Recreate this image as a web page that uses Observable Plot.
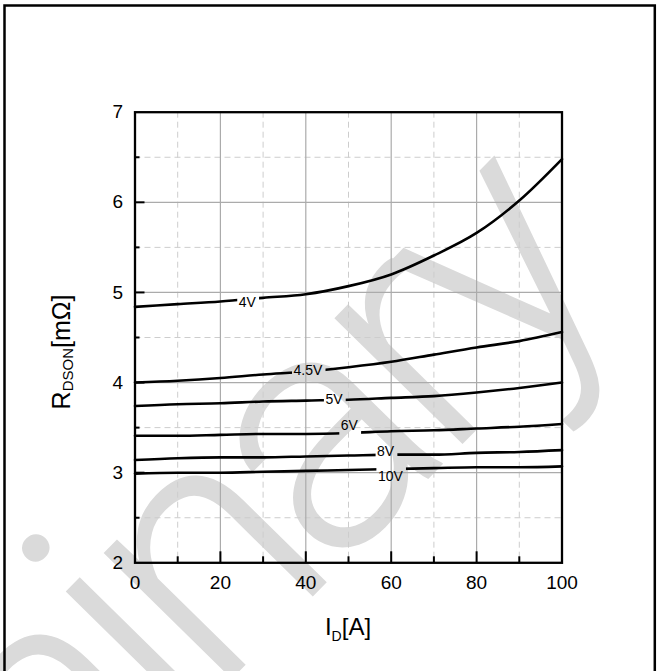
<!DOCTYPE html>
<html>
<head>
<meta charset="utf-8">
<script src="https://cdn.jsdelivr.net/npm/d3@7"></script>
<script src="https://cdn.jsdelivr.net/npm/@observablehq/plot@0.6"></script>
<style>
  html, body { margin: 0; padding: 0; background: #fff; }
  #chart { width: 660px; height: 671px; overflow: hidden; position: relative; }
  #chart svg { display: block; }
</style>
</head>
<body>
<div id="chart"></div>
<script>
// ---- data ----
const currentA = [0, 10, 20, 30, 40, 50, 60, 70, 80, 90, 100];
const vgsLabels = ["4V", "4.5V", "5V", "6V", "8V", "10V"];
const rds4V  = [4.84, 4.87, 4.90, 4.94, 4.98, 5.07, 5.20, 5.41, 5.66, 6.02, 6.48];
const rds45V = [4.00, 4.02, 4.05, 4.09, 4.12, 4.17, 4.23, 4.31, 4.39, 4.46, 4.56];
const rds5V  = [3.74, 3.76, 3.77, 3.79, 3.80, 3.81, 3.83, 3.85, 3.89, 3.94, 4.00];
const rds6V  = [3.41, 3.41, 3.42, 3.43, 3.43, 3.44, 3.46, 3.47, 3.49, 3.51, 3.54];
const rds8V  = [3.14, 3.16, 3.17, 3.17, 3.18, 3.19, 3.20, 3.20, 3.22, 3.23, 3.25];
const rds10V = [2.99, 3.00, 3.00, 3.01, 3.02, 3.03, 3.04, 3.05, 3.06, 3.06, 3.07];
const labelI = [26.3, 40.5, 46.6, 50.2, 58.7, 59.8];
const labelR = [4.89, 4.13, 3.81, 3.52, 3.23, 2.96];
const xTickLabels = [0, 20, 40, 60, 80, 100];
const yTickLabels = [2, 3, 4, 5, 6, 7];
const xMajor = [20, 40, 60, 80];
const xMinor = [10, 30, 50, 70, 90];
const yMajor = [3, 4, 5, 6];
const yMinor = [2.5, 3.5, 4.5, 5.5, 6.5];
const xTitle = ["I", "D", "[A]"];
const yTitle = ["R", "DSON", "[mΩ]"];
const watermark = "Preliminary";

// ---- build ----
const series = [rds4V, rds45V, rds5V, rds6V, rds8V, rds10V];
const rows = series.flatMap((vals, k) => vals.map((r, i) => ({vgs: vgsLabels[k], id: currentA[i], r})));
const labelRows = vgsLabels.map((t, k) => ({t, id: labelI[k], r: labelR[k]}));

const W = 660, H = 671;
const mt = 111.7, mr = 98.5, mb = 108.7, ml = 134.5;
const innerW = W - ml - mr, innerH = H - mt - mb;
const FONT = "'Liberation Sans', Arial, Helvetica, sans-serif";

const chart = Plot.plot({
  width: W, height: H,
  marginTop: mt, marginRight: mr, marginBottom: mb, marginLeft: ml,
  x: {domain: [0, 100]},
  y: {domain: [2, 7]},
  style: {fontFamily: FONT, fontSize: "19px", background: "transparent", color: "black", overflow: "visible"},
  marks: [
    Plot.ruleX(xMinor, {stroke: "#cdcdcd", strokeWidth: 1, strokeDasharray: "6,4"}),
    Plot.ruleY(yMinor, {stroke: "#cdcdcd", strokeWidth: 1, strokeDasharray: "6,4"}),
    Plot.ruleX(xMajor, {stroke: "#ababab", strokeWidth: 1.2}),
    Plot.ruleY(yMajor, {stroke: "#ababab", strokeWidth: 1.2}),
    Plot.ruleX(xMajor, {stroke: "black", strokeWidth: 2, insetTop: innerH - 11}),
    Plot.ruleX(xMinor, {stroke: "black", strokeWidth: 2, insetTop: innerH - 6}),
    Plot.ruleY(yMajor, {stroke: "black", strokeWidth: 2, insetRight: innerW - 10}),
    Plot.ruleY(yMinor, {stroke: "black", strokeWidth: 2, insetRight: innerW - 5}),
    Plot.line(rows, {x: "id", y: "r", z: "vgs", stroke: "black", strokeWidth: 2.6, curve: "monotone-x"}),
    Plot.text(labelRows, {x: "id", y: "r", text: "t", fontSize: 14, fill: "black"}),
    Plot.frame({stroke: "black", strokeWidth: 2.3}),
    Plot.axisX(xTickLabels, {tickSize: 0, tickPadding: 13, fontSize: 19, label: null, tickFormat: d => String(d)}),
    Plot.axisY(yTickLabels, {tickSize: 0, tickPadding: 12, fontSize: 19, label: null, tickFormat: d => String(d)})
  ]
});

document.getElementById("chart").append(chart);
const svg = d3.select(chart);
const xs = chart.scale("x");

// watermark (behind everything)
svg.insert("text", ":first-child")
  .attr("transform", "translate(612,292) rotate(-45.5)")
  .attr("text-anchor", "end")
  .attr("font-family", "Roboto, 'Liberation Sans', sans-serif")
  .attr("font-weight", 300)
  .attr("font-size", 340)
  .attr("letter-spacing", -20)
  .attr("fill", "#dadada")
  .text(watermark);

// gaps in curves behind the inline labels
const svgRect = chart.getBoundingClientRect();
const defs = svg.append("defs");
const mask = defs.append("mask").attr("id", "gapmask")
  .attr("maskUnits", "userSpaceOnUse").attr("x", 0).attr("y", 0).attr("width", W).attr("height", H);
mask.append("rect").attr("width", W).attr("height", H).attr("fill", "white");
svg.selectAll('g[aria-label="text"] text').nodes().forEach(t => {
  const b = t.getBoundingClientRect();
  mask.append("rect")
    .attr("x", b.left - svgRect.left - 2).attr("y", b.top - svgRect.top - 3)
    .attr("width", b.width + 4).attr("height", b.height + 6).attr("fill", "black");
});
svg.select('g[aria-label="line"]').attr("mask", "url(#gapmask)");

// axis titles with subscripts
const cx = (xs.range[0] + xs.range[1]) / 2;
const xt = svg.append("text").attr("x", cx).attr("y", 635)
  .attr("text-anchor", "middle").attr("font-family", FONT).attr("font-size", 24).attr("fill", "black");
xt.append("tspan").text(xTitle[0]);
xt.append("tspan").attr("font-size", 14).attr("dy", 6).text(xTitle[1]);
xt.append("tspan").attr("dy", -6).text(xTitle[2]);

const yt = svg.append("text").attr("transform", "translate(70,352) rotate(-90)")
  .attr("text-anchor", "middle").attr("font-family", FONT).attr("font-size", 25).attr("fill", "black");
yt.append("tspan").text(yTitle[0]);
yt.append("tspan").attr("font-size", 15).attr("dy", 3).text(yTitle[1]);
yt.append("tspan").attr("dy", -3).text(yTitle[2]);

// outer border
svg.append("rect").attr("x", 4.5).attr("y", 5.5).attr("width", 650.3).attr("height", 700)
  .attr("fill", "none").attr("stroke", "black").attr("stroke-width", 2.5);
</script>
</body>
</html>
